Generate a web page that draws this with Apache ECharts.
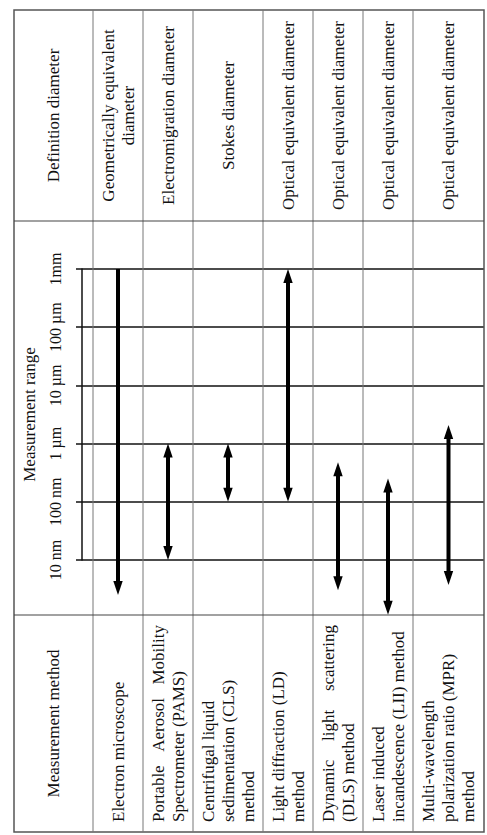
<!DOCTYPE html>
<html><head><meta charset="utf-8">
<script src="https://cdn.jsdelivr.net/npm/echarts@6/dist/echarts.min.js"></script>
<style>html,body{margin:0;padding:0;background:#fff}#c{width:487px;height:835px}</style>
</head><body><div id="c"></div>
<script>
// ---------------- data ----------------
const methods = [
  ['Electron microscope'],
  ['Portable Aerosol Mobility', 'Spectrometer (PAMS)'],
  ['Centrifugal liquid', 'sedimentation (CLS)', 'method'],
  ['Light diffraction (LD)', 'method'],
  ['Dynamic light scattering', '(DLS) method'],
  ['Laser induced', 'incandescence (LII) method'],
  ['Multi-wavelength', 'polarization ratio (MPR)', 'method']
];
const diameters = [
  ['Geometrically equivalent', 'diameter'],
  ['Electromigration diameter'],
  ['Stokes diameter'],
  ['Optical equivalent diameter'],
  ['Optical equivalent diameter'],
  ['Optical equivalent diameter'],
  ['Optical equivalent diameter']
];
const headMethod = 'Measurement method';
const headRange = 'Measurement range';
const headDefinition = 'Definition diameter';
const tickLabels = ['10 nm', '100 nm', '1 µm', '10 µm', '100 µm', '1mm'];
// range limits in decades of nm (1 = 10 nm, 6 = 1 mm)
const rangeLow  = [0.40, 1.00, 2.00, 2.00, 0.48, 0.06, 0.57];
const rangeHigh = [6.00, 3.00, 3.00, 6.00, 2.68, 2.40, 3.32];
const arrowAtLow  = [true, true, true, true, true, true, true];
const arrowAtHigh = [false, true, true, true, true, true, true];

// ---------------- layout / style ----------------
const LAY = {
  left: 14, right: 484, top: 10, bottom: 832,
  headerBottom: 221, methodTop: 615,
  colEdges: [14, 93, 143, 193, 263, 313, 363, 413, 484],
  gridLeft: 82, gridTop: 269, gridBottom: 560,
  pad: 10, lineH: 20, fontSize: 17
};
const justify = [false, true, false, false, true, false, false];
const FONT = 'Liberation Serif';
const TXT = '#111';

const W = 487, H = 835;
const colCenter = i => (LAY.colEdges[i] + LAY.colEdges[i + 1]) / 2;

const mctx = document.createElement('canvas').getContext('2d');
mctx.font = LAY.fontSize + 'px "' + FONT + '"';
const measure = s => mctx.measureText(s).width;

function rotText(text, x, y, align, extra) {
  return Object.assign({
    type: 'text', x: x, y: y, rotation: Math.PI / 2, z: 5,
    style: { text: text, fill: TXT, fontSize: LAY.fontSize, fontFamily: FONT,
             align: align, verticalAlign: 'middle' }
  }, extra || {});
}

const graphics = [];
// table frame
graphics.push({ type: 'rect', z: 1, shape: { x: LAY.left, y: LAY.top, width: LAY.right - LAY.left, height: LAY.bottom - LAY.top },
  style: { fill: 'none', stroke: '#555', lineWidth: 1.5 } });
for (let i = 1; i < LAY.colEdges.length - 1; i++) {
  graphics.push({ type: 'line', z: 1, shape: { x1: LAY.colEdges[i], y1: LAY.top, x2: LAY.colEdges[i], y2: LAY.bottom },
    style: { stroke: '#777', lineWidth: 1 } });
}
[LAY.headerBottom, LAY.methodTop].forEach(y => {
  graphics.push({ type: 'line', z: 1, shape: { x1: LAY.left, y1: y, x2: LAY.right, y2: y },
    style: { stroke: '#444', lineWidth: 1.2 } });
});

// header row (definition diameter)
const hMid = (LAY.top + LAY.headerBottom) / 2;
graphics.push(rotText(headDefinition, colCenter(0), hMid, 'center'));
diameters.forEach((lines, i) => {
  const cx = colCenter(i + 1);
  lines.forEach((t, k) => {
    graphics.push(rotText(t, cx + (k - (lines.length - 1) / 2) * LAY.lineH, hMid, 'center'));
  });
});

// bottom row (measurement method)
const mMid = (LAY.methodTop + LAY.bottom) / 2;
graphics.push(rotText(headMethod, colCenter(0), mMid, 'center'));
const startY = LAY.bottom - LAY.pad, endY = LAY.methodTop + LAY.pad;
methods.forEach((lines, i) => {
  const cx = colCenter(i + 1);
  lines.forEach((t, k) => {
    const x = cx + (k - (lines.length - 1) / 2) * LAY.lineH;
    if (k === 0 && justify[i]) {
      const words = t.split(' ');
      const ws = words.map(measure);
      const total = ws.reduce((a, b) => a + b, 0);
      const gap = (startY - endY - total) / (words.length - 1);
      let s = 0;
      words.forEach((w, j) => {
        graphics.push(rotText(w, x, startY - s, 'left'));
        s += ws[j] + gap;
      });
    } else {
      graphics.push(rotText(t, x, startY, 'left'));
    }
  });
});

const arrowData = rangeLow.map((lo, i) => [colCenter(i + 1), lo, rangeHigh[i], arrowAtLow[i] ? 1 : 0, arrowAtHigh[i] ? 1 : 0]);

const chart = echarts.init(document.getElementById('c'), null, { renderer: 'svg', width: W, height: H });
chart.setOption({
  animation: false,
  backgroundColor: '#fff',
  grid: { left: LAY.gridLeft, right: W - LAY.right, top: LAY.gridTop, bottom: H - LAY.gridBottom, containLabel: false },
  xAxis: { type: 'value', min: LAY.gridLeft, max: LAY.right, show: false },
  yAxis: {
    type: 'value', min: 1, max: 6, interval: 1,
    name: headRange, nameLocation: 'middle', nameRotate: 90, nameGap: 44,
    nameTextStyle: { fontFamily: FONT, fontSize: LAY.fontSize, color: TXT },
    axisLine: { show: true, lineStyle: { color: '#111', width: 1.5 } },
    axisTick: { show: true, length: 6, lineStyle: { color: '#111', width: 1.5 } },
    axisLabel: { rotate: 90, margin: 19, fontFamily: FONT, fontSize: 16, color: TXT,
      formatter: v => tickLabels[Math.round(v) - 1] },
    splitLine: { show: true, lineStyle: { color: '#111', width: 1.5 } }
  },
  graphic: graphics,
  series: [{
    type: 'custom', z: 10, clip: false,
    data: arrowData,
    renderItem: function (params, api) {
      const x = api.value(0);
      const pLo = api.coord([x, api.value(1)]);
      const pHi = api.coord([x, api.value(2)]);
      const px = pLo[0];
      const yBot = pLo[1], yTop = pHi[1];
      const hw = 4.7, hl = 14, sw = 4;
      const hasLo = api.value(3) === 1, hasHi = api.value(4) === 1;
      const sTop = hasHi ? yTop + hl - 2 : yTop;
      const sBot = hasLo ? yBot - hl + 2 : yBot;
      const ch = [{ type: 'rect', shape: { x: px - sw / 2, y: sTop, width: sw, height: sBot - sTop }, style: { fill: '#000' } }];
      if (hasHi) ch.push({ type: 'polygon', shape: { points: [[px, yTop], [px - hw, yTop + hl], [px + hw, yTop + hl]] }, style: { fill: '#000' } });
      if (hasLo) ch.push({ type: 'polygon', shape: { points: [[px, yBot], [px - hw, yBot - hl], [px + hw, yBot - hl]] }, style: { fill: '#000' } });
      return { type: 'group', children: ch };
    }
  }]
});
</script></body></html>
